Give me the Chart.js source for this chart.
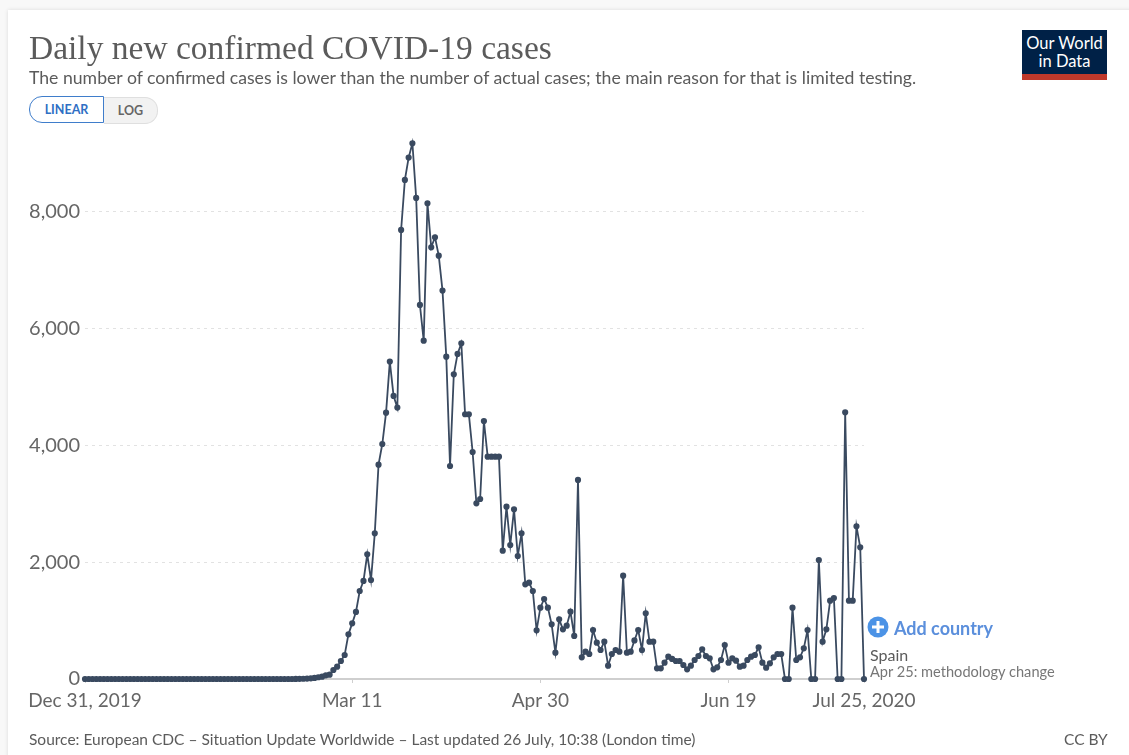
<!DOCTYPE html>
<html>
<head>
<meta charset="utf-8">
<script src="https://cdn.jsdelivr.net/npm/chart.js@4"></script>
<style>
html,body{margin:0;padding:0;width:1129px;height:755px;overflow:hidden;background:#f8f8f8;font-family:Lato,sans-serif}
#card{position:absolute;left:8px;top:10px;width:1140px;height:760px;background:#fff;box-shadow:0 0 4px rgba(0,0,0,.12)}
canvas{position:absolute;left:0;top:0}
.t{position:absolute;white-space:nowrap;line-height:1}
#lin{position:absolute;left:29px;top:96px;width:73px;height:25px;border:1.5px solid #3f7dcb;border-radius:13px 0 0 13px;background:#fff;color:#2f6fc4;font:bold 12.5px Lato,sans-serif;text-align:center;line-height:25px}
#log{position:absolute;left:104px;top:97px;width:53px;height:25px;border:1px solid #dfdfdf;border-left:none;border-radius:0 13px 13px 0;background:#f2f2f2;color:#666;font:bold 12.5px Lato,sans-serif;text-align:center;line-height:25px}
#logo{position:absolute;left:1022px;top:30px;width:85px;height:50px;background:#002147;border-bottom:6px solid #c0392b;box-sizing:border-box;color:#fff;text-align:center;font:16.5px/18px Lato,sans-serif;padding-top:4px}
</style>
</head>
<body>
<div id="card"></div>
<canvas id="c" width="1129" height="755"></canvas>
<div class="t" style="left:29px;top:69px;font-size:17.65px;color:#5b5b5b">The number of confirmed cases is lower than the number of actual cases; the main reason for that is limited testing.</div>
<div id="lin">LINEAR</div><div id="log">LOG</div>
<div id="logo">Our World<br>in Data</div>
<svg style="position:absolute;left:867px;top:616px" width="22" height="22"><circle cx="11" cy="11" r="10.5" fill="#4c93e6"/><rect x="5" y="9.5" width="12" height="3" fill="#fff"/><rect x="9.5" y="5" width="3" height="12" fill="#fff"/></svg>
<div class="t" style="left:894px;top:619px;font-size:18px;font-weight:bold;color:#5b8fdc">Add country</div>
<div class="t" style="left:870px;top:647px;font-size:16px;color:#5b5b5b">Spain</div>
<div class="t" style="left:870px;top:665px;font-size:14.6px;color:#777">Apr 25: methodology change</div>
<div class="t" style="left:29px;top:732px;font-size:15.5px;color:#5b5b5b">Source: European CDC – Situation Update Worldwide – Last updated 26 July, 10:38 (London time)</div>
<div class="t" style="left:1064px;top:732px;font-size:15.5px;color:#5b5b5b">CC BY</div>
<script>
const titleText = "Daily new confirmed COVID-19 cases";
const xTickDays = [0, 71, 121, 171, 207];
const xTickLabels = ["Dec 31, 2019", "Mar 11", "Apr 30", "Jun 19", "Jul 25, 2020"];
const yTickValues = [0, 2000, 4000, 6000, 8000];
const dailyCases = [
 0,0,0,0,0,0,0,0,0,0,0,0,0,0,0,0,0,0,0,0,0,0,0,0,0,0,0,0,
 0,0,0,0,0,0,0,0,0,0,0,0,0,0,0,0,0,0,0,0,0,0,0,0,0,0,0,0,
 1,3,4,8,12,18,30,
 40,63,74,154,211,308,411,765,953,1148,1507,1679,2135,1696,2495,3671,4025,4562,
 5436,4848,4648,7691,8547,8930,9176,8239,6406,5795,8148,7394,7565,7251,6652,5521,
 3648,5218,5567,5750,4534,4534,3888,3009,3083,4419,3808,3808,3808,3808,
 2198,2952,2295,2906,2107,2495,1622,1650,1507,834,1222,1370,1222,936,451,1022,851,914,1153,737,
 3409,371,468,428,839,622,497,639,228,428,497,468,1770,451,468,660,839,497,1125,639,639,183,183,280,382,343,
 308,308,240,166,228,325,394,508,394,354,166,200,325,582,280,354,314,211,228,325,382,411,542,280,194,268,371,428,428,
 0,0,1222,325,371,525,839,0,0,2038,639,851,1342,1387,0,0,4568,1342,1342,2615,2255,0
];
new Chart(document.getElementById("c"), {
  type: "line",
  data: { datasets: [{
    label: "Spain",
    data: dailyCases.map((y, x) => ({ x, y })),
    borderColor: "#3a4a60", backgroundColor: "#3a4a60",
    borderWidth: 1.8, pointRadius: 2.2, pointHoverRadius: 2.2, tension: 0, clip: false
  }]},
  options: {
    responsive: false, animation: false,
    layout: { padding: { left: 29, right: 265, top: 33, bottom: 24 } },
    plugins: {
      legend: { display: false }, tooltip: { enabled: false },
      title: { display: true, text: titleText, align: "start", fullSize: true, color: "#5b5b5b",
        font: { family: "'Liberation Serif', serif", size: 33.5, weight: "normal", lineHeight: 1 }, padding: { top: 0, bottom: 69.5 } }
    },
    scales: {
      x: { type: "linear", min: 0, max: 207,
        afterBuildTicks: a => { a.ticks = xTickDays.map(value => ({ value })); },
        afterFit: s => { s.height = 52; },
        border: { display: false },
        grid: { drawOnChartArea: false, drawTicks: true, tickLength: 4, color: "#cfcfcf" },
        ticks: { color: "#666", font: { family: "Lato, sans-serif", size: 19 }, padding: 6, maxRotation: 0, autoSkip: false,
          callback: v => xTickLabels[xTickDays.indexOf(v)] }
      },
      y: { type: "linear", min: 0, max: 9300,
        afterBuildTicks: a => { a.ticks = yTickValues.map(value => ({ value })); },
        afterFit: s => { s.width = 56; },
        border: { display: false, dash: c => c.tick && c.tick.value === 0 ? [] : [3, 4] },
        grid: { drawTicks: false,
          color: c => c.tick.value === 0 ? "#cfcfcf" : "#e2e2e2",
          lineWidth: c => c.tick.value === 0 ? 2 : 1 },
        ticks: { color: "#666", font: { family: "Lato, sans-serif", size: 20 }, padding: 5,
          callback: v => v.toLocaleString("en-US") }
      }
    }
  }
});
</script>
</body>
</html>
